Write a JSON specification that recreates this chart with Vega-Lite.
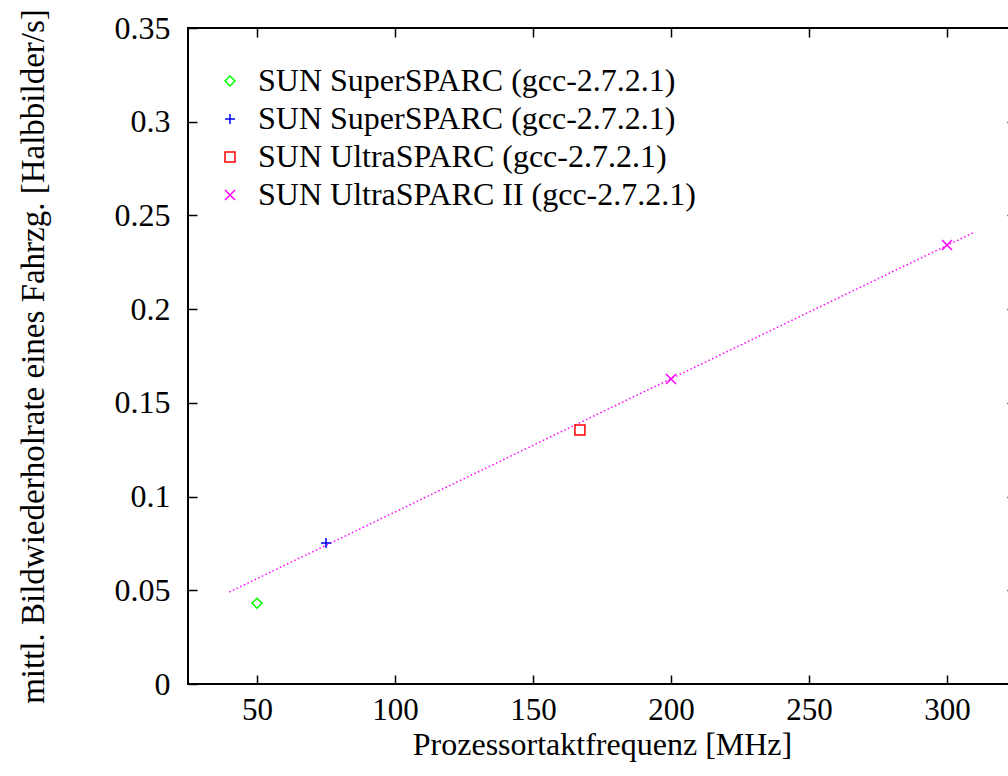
{
  "$schema": "https://vega.github.io/schema/vega-lite/v6.json",
  "width": 828,
  "height": 656,
  "autosize": {"type": "none"},
  "padding": {"left": 188, "top": 28, "right": 0, "bottom": 92},
  "background": "white",
  "config": {
    "font": "Liberation Serif",
    "view": {"stroke": "black", "strokeWidth": 2},
    "axis": {
      "domain": false,
      "grid": false,
      "tickColor": "black",
      "tickWidth": 1.5,
      "labelFont": "Liberation Serif",
      "labelFontSize": 32,
      "labelColor": "black",
      "titleFont": "Liberation Serif",
      "titleFontSize": 33,
      "titleFontWeight": "normal",
      "titleColor": "black"
    },
    "legend": {
      "labelFont": "Liberation Serif",
      "labelFontSize": 32,
      "labelColor": "black",
      "labelLimit": 0
    }
  },
  "datasets": {
    "measured": [
      {"freq": 50, "rate": 0.0431, "series": "SUN SuperSPARC (gcc-2.7.2.1) #1"},
      {"freq": 75, "rate": 0.0752, "series": "SUN SuperSPARC (gcc-2.7.2.1) #2"},
      {"freq": 167, "rate": 0.1355, "series": "SUN UltraSPARC (gcc-2.7.2.1) #3"},
      {"freq": 200, "rate": 0.1627, "series": "SUN UltraSPARC II (gcc-2.7.2.1) #4"},
      {"freq": 300, "rate": 0.2342, "series": "SUN UltraSPARC II (gcc-2.7.2.1) #4"}
    ],
    "fit": [
      {"freq": 40, "rate": 0.0491},
      {"freq": 310, "rate": 0.2411}
    ]
  },
  "layer": [
    {
      "data": {"name": "fit"},
      "mark": {"type": "line", "color": "#ff00ff", "strokeWidth": 1.5, "strokeDash": [1.5, 2.5]},
      "encoding": {
        "x": {
          "field": "freq", "type": "quantitative",
          "scale": {"domain": [25, 325], "nice": false, "zero": false},
          "axis": {"orient": "top", "labels": false, "title": null, "values": [50, 100, 150, 200, 250, 300], "tickSize": -9}
        },
        "y": {
          "field": "rate", "type": "quantitative",
          "scale": {"domain": [0, 0.35], "nice": false},
          "axis": {"orient": "right", "labels": false, "title": null, "values": [0, 0.05, 0.1, 0.15, 0.2, 0.25, 0.3, 0.35], "tickSize": -9}
        }
      }
    },
    {
      "data": {"name": "measured"},
      "mark": {"type": "point", "filled": false, "strokeWidth": 1.5, "size": 100, "opacity": 1},
      "encoding": {
        "x": {
          "field": "freq", "type": "quantitative",
          "axis": {"orient": "bottom", "title": "Prozessortaktfrequenz [MHz]", "values": [50, 100, 150, 200, 250, 300], "tickSize": -9, "labelPadding": 20, "labelFontSize": 31, "titlePadding": 4, "titleFontSize": 32}
        },
        "y": {
          "field": "rate", "type": "quantitative",
          "axis": {"orient": "left", "title": "mittl. Bildwiederholrate eines Fahrzg. [Halbbilder/s]", "values": [0, 0.05, 0.1, 0.15, 0.2, 0.25, 0.3, 0.35], "format": "~g", "tickSize": -9, "labelPadding": 27, "titlePadding": 64}
        },
        "color": {
          "field": "series", "type": "nominal",
          "scale": {
            "domain": ["SUN SuperSPARC (gcc-2.7.2.1) #1", "SUN SuperSPARC (gcc-2.7.2.1) #2", "SUN UltraSPARC (gcc-2.7.2.1) #3", "SUN UltraSPARC II (gcc-2.7.2.1) #4"],
            "range": ["#00ff00", "#0000ff", "#ff0000", "#ff00ff"]
          },
          "legend": {
            "title": null,
            "orient": "none",
            "legendX": 26,
            "legendY": 37,
            "labelExpr": "replace(datum.label, / #\\d$/, '')",
            "symbolSize": 100,
            "symbolStrokeWidth": 1.5,
            "labelOffset": 12,
            "rowPadding": 6
          }
        },
        "shape": {
          "field": "series", "type": "nominal",
          "scale": {
            "domain": ["SUN SuperSPARC (gcc-2.7.2.1) #1", "SUN SuperSPARC (gcc-2.7.2.1) #2", "SUN UltraSPARC (gcc-2.7.2.1) #3", "SUN UltraSPARC II (gcc-2.7.2.1) #4"],
            "range": ["M0,-1L1,0L0,1L-1,0Z", "M-1,0L1,0M0,-1L0,1", "M-1,-1L1,-1L1,1L-1,1Z", "M-1,-1L1,1M1,-1L-1,1"]
          }
        }
      }
    }
  ],
  "resolve": {"axis": {"x": "independent", "y": "independent"}}
}
